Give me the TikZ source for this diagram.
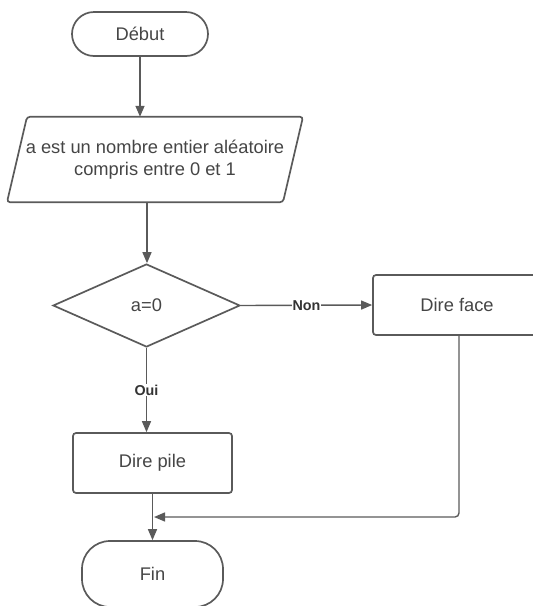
\documentclass[tikz,border=0pt]{standalone}
\usepackage{fontspec}
\setmainfont{Liberation Sans}
\usetikzlibrary{shapes.geometric,arrows.meta}
\definecolor{linecol}{HTML}{5A5A5A}
\definecolor{txtcol}{HTML}{454545}
\definecolor{lblcol}{HTML}{333333}
\begin{document}
\begin{tikzpicture}[x=1pt,y=-1pt,
  shapeline/.style={draw=linecol, line width=1.7pt},
  connector/.style={draw=linecol, line width=1.4pt, -{Triangle[length=11pt,width=9pt]}},
  boxtext/.style={text=txtcol, font=\fontsize{18.3}{22}\selectfont, align=center},
  terminal/.style={shapeline, boxtext, rounded corners=22pt, minimum width=136pt, minimum height=44pt, inner sep=0pt},
  procbox/.style={shapeline, boxtext, rounded corners=3pt, minimum height=60pt, inner sep=0pt},
  decision/.style={shapeline, boxtext, diamond, aspect=2.25, minimum width=187pt, minimum height=83pt, inner sep=0pt},
  edgelabel/.style={fill=white, text=lblcol, font=\bfseries\fontsize{14.3}{16}\selectfont, inner sep=1pt}
]
\useasboundingbox (0,0) rectangle (533,606);
\begin{scope}
\clip (0,0) rectangle (533,606);

\node[terminal] (debut) at (140,34) {Début};

\node[boxtext, minimum width=276pt, minimum height=85pt, inner sep=0pt] (para) at (155,159.5)
  {a est un nombre entier aléatoire\\compris entre 0 et 1};
\draw[shapeline, rounded corners=3pt]
  ([xshift=-128pt]para.north) -- ([xshift=148pt]para.north) --
  ([xshift=128pt]para.south) -- ([xshift=-148pt]para.south) -- cycle;

\node[decision] (dec) at (146.5,305.5) {a=0};

\node[procbox, minimum width=168pt] (face) at (457,305) {Dire face};

\node[procbox, minimum width=159pt] (pile) at (152.5,463) {Dire pile};

\node[terminal, minimum width=141pt, minimum height=66pt, rounded corners=28pt] (fin) at (152.5,574) {Fin};

\coordinate (join) at (154,517);

\draw[connector] (debut.south) -- (debut.south |- para.north);
\draw[connector] ([xshift=-8pt]para.south) -- ([xshift=-8pt]para.south |- dec.north);
\draw[connector] (dec.east) -- node[edgelabel] {Non} (face.west);
\draw[connector] (dec.south) -- node[edgelabel, pos=0.5] {Oui} (dec.south |- pile.north);
\draw[connector] (pile.south) -- (fin.north);
\draw[connector, rounded corners=4pt] ([xshift=2pt]face.south) |- (join);
\end{scope}
\end{tikzpicture}
\end{document}
